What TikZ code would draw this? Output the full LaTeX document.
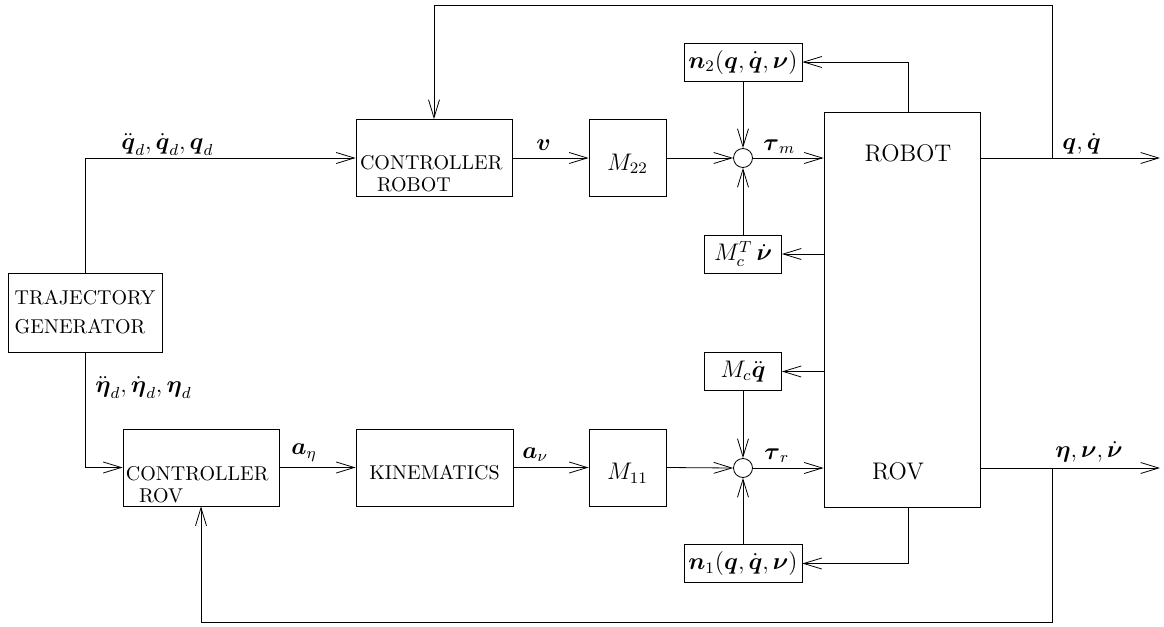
\documentclass[tikz,border=0pt]{standalone}
\usepackage{amsmath,amssymb}
\usepackage{tikz}
\usetikzlibrary{
    arrows.meta,
    positioning,
    calc
}
\tikzset{
    block/.style={
        draw,
        minimum width=78pt,
        minimum height=38.5pt,
        inner sep=0pt
    }
}
\tikzset{
    gainbox/.style={
        draw,
        minimum width=38.5pt,
        minimum height=38.5pt,
        text height=12pt,
        text depth=0pt,
        inner sep=0pt
    }
}
\tikzset{
    termbox/.style={
        draw,
        minimum height=19pt,
        inner sep=1pt
    }
}
\tikzset{
    plantbox/.style={
        draw,
        minimum width=78pt,
        minimum height=197.5pt,
        inner sep=0pt
    }
}
\tikzset{
    sumpoint/.style={
        circle,
        draw,
        fill=white,
        minimum size=9.5pt,
        inner sep=0pt
    }
}
\tikzset{
    capsword/.style={
        font=\normalsize,
        align=left,
        inner sep=0pt
    }
}
\tikzset{
    signal/.style={
        draw,
        ->,
        >={Straight Barb[length=9pt,width=5.5pt]}
    }
}
\tikzset{
    siglabel/.style={
        anchor=south west,
        inner sep=0pt
    }
}

\begin{document}
\begin{tikzpicture}[
    x=0.5pt,
    y=-0.5pt,
    font=\large
]
\useasboundingbox (0,0) rectangle (1164,627);

% ------------------------------------------------------------
% Reference generation and controllers
% ------------------------------------------------------------

\node[block, minimum width=77pt, minimum height=39.5pt] (traj) at (85,312.5) {};
\node[capsword] (trajtext) at (traj.center) {TRAJECTORY\\[2.5pt]GENERATOR};

\node[block] (ctrlrobot) at (434,158) {};
\node[capsword, anchor=north west] (ctrlrobottext) at ($(ctrlrobot.west)+(4,-3)$)
    {CONTROLLER\\[-1pt]\hspace*{8.5pt}ROBOT};

\node[block] (ctrlrov) at (201,467.5) {};
\node[capsword, anchor=north west] (ctrlrovtext) at ($(ctrlrov.west)+(3,-2)$)
    {CONTROLLER\\[-1pt]\hspace*{6.5pt}ROV};

\node[block, minimum width=78.5pt, font=\normalsize, text height=12pt, text depth=0pt]
    (kin) at (434.5,467.5) {KINEMATICS};

% ------------------------------------------------------------
% Inertia gains, summing points and coupling terms
% ------------------------------------------------------------

\node[gainbox] (mtt) at (627.5,158) {$M_{22}$};
\node[gainbox] (mot) at (627.5,467.5) {$M_{11}$};

\node[sumpoint] (summ) at (743,158) {};
\node[sumpoint] (sumr) at (743,468) {};

\node[termbox, minimum width=59pt] (ntwo) at (743,62)
    {$\boldsymbol{n}_2(\boldsymbol{q},\dot{\boldsymbol{q}},\boldsymbol{\nu})$};
\node[termbox, minimum width=38.5pt] (mct) at (743,254)
    {$M_c^T\,\dot{\boldsymbol{\nu}}$};
\node[termbox, minimum width=38.5pt] (mcq) at (743,371.5)
    {$M_c\ddot{\boldsymbol{q}}$};
\node[termbox, minimum width=59pt] (none) at (743,563.5)
    {$\boldsymbol{n}_1(\boldsymbol{q},\dot{\boldsymbol{q}},\boldsymbol{\nu})$};

% ------------------------------------------------------------
% Vehicle-manipulator system
% ------------------------------------------------------------

\node[plantbox] (plant) at (902,309.5) {};
\node[inner sep=0pt] (plantrobot) at (908,153) {ROBOT};
\node[inner sep=0pt] (plantrov) at (898,471) {ROV};

\coordinate (qbranch) at (1052,158);
\coordinate (etabranch) at (1052,468);
\coordinate (qout) at (1160,158);
\coordinate (etaout) at (1160,468);
\coordinate (toprail) at (1052,5);
\coordinate (botrail) at (1052,622);
\coordinate (robtap) at ($(plant.north)+(6,0)$);
\coordinate (rovtap) at ($(plant.south)+(6,0)$);

% ------------------------------------------------------------
% Signals
% ------------------------------------------------------------

\draw[signal] (traj.north) |- (ctrlrobot.west);
\draw[signal] (traj.south) |- (ctrlrov.west);
\node[siglabel] (lblqd) at (121,156)
    {$\ddot{\boldsymbol{q}}_d,\dot{\boldsymbol{q}}_d,\boldsymbol{q}_d$};
\node[siglabel] (lbletad) at (95,399)
    {$\ddot{\boldsymbol{\eta}}_d,\dot{\boldsymbol{\eta}}_d,\boldsymbol{\eta}_d$};

\draw[signal] (ctrlrobot.east) -- (mtt.west);
\draw[signal] (mtt.east) -- (summ.west);
\draw[signal] (summ.east) -- (summ -| plant.west);
\node[siglabel] (lblv) at (536,151) {$\boldsymbol{v}$};
\node[siglabel] (lbltaum) at (763,154) {$\boldsymbol{\tau}_m$};

\draw[signal] (ctrlrov.east) -- (kin.west);
\draw[signal] (kin.east) -- (mot.west);
\draw[signal] (mot.east) -- (sumr.west);
\draw[signal] (sumr.east) -- (sumr -| plant.west);
\node[siglabel] (lblaeta) at (291,462) {$\boldsymbol{a}_\eta$};
\node[siglabel] (lblanu) at (522,462) {$\boldsymbol{a}_\nu$};
\node[siglabel] (lbltaur) at (764,463) {$\boldsymbol{\tau}_r$};

% coupling terms into the summing points
\draw[signal] (ntwo.south) -- (summ.north);
\draw[signal] (mct.north) -- (summ.south);
\draw[signal] (mcq.south) -- (sumr.north);
\draw[signal] (none.north) -- (sumr.south);

\draw[signal] (robtap) |- (ntwo.east);
\draw[signal] (rovtap) |- (none.east);
\draw[signal] (mct.east -| plant.west) -- (mct.east);
\draw[signal] (mcq.east -| plant.west) -- (mcq.east);

% outputs and feedback loops
\draw[signal] (qbranch -| plant.east) -- (qout);
\draw[signal] (etabranch -| plant.east) -- (etaout);
\node[siglabel] (lblq) at (1062,155) {$\boldsymbol{q},\dot{\boldsymbol{q}}$};
\node[siglabel] (lbleta) at (1055,463)
    {$\boldsymbol{\eta},\boldsymbol{\nu},\dot{\boldsymbol{\nu}}$};

\draw[signal] (qbranch) -- (toprail) -| (ctrlrobot.north);
\draw[signal] (etabranch) -- (botrail) -| (ctrlrov.south);

\end{tikzpicture}
\end{document}
